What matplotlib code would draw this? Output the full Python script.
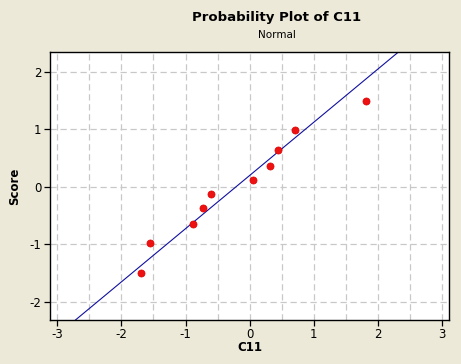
import matplotlib
matplotlib.use("Agg")
import matplotlib.pyplot as plt
import numpy as np

# Data
c11_values = [-1.69, -1.55, -0.89, -0.73, -0.61, 0.06, 0.31, 0.45, 0.70, 1.81]
scores = [-1.497, -0.980, -0.645, -0.369, -0.121, 0.121, 0.369, 0.645, 0.980, 1.497]
x_ticks = [-3, -2, -1, 0, 1, 2, 3]
y_ticks = [-2, -1, 0, 1, 2]

title = "Probability Plot of C11"
subtitle = "Normal"

bg = "#ECE9D8"
plt.rcParams['font.family'] = ['DejaVu Sans']
plt.rcParams['axes.unicode_minus'] = False

fig = plt.figure(figsize=(4.61, 3.64), dpi=100, facecolor=bg)
ax = fig.add_axes([50/461, 44/364, 399/461, 268/364])
ax.set_facecolor("white")

xmin, xmax = -3.114, 3.11
ymin, ymax = -2.31, 2.34
ax.set_xlim(xmin, xmax)
ax.set_ylim(ymin, ymax)

# grid
minor_x = np.arange(-3, 3.01, 0.5)
for xv in minor_x:
    ax.axvline(xv, color="#c8c8c8", lw=0.9, ls=(0, (5, 3)), zorder=0)
for yv in y_ticks:
    ax.axhline(yv, color="#c8c8c8", lw=0.9, ls=(0, (5, 3)), zorder=0)

# fitted normal line
x_arr = np.array(c11_values)
mu = x_arr.mean()
sd = x_arr.std(ddof=1)
xs = np.array([xmin, xmax])
ax.plot(xs, (xs - mu) / sd, color="#1010a0", lw=0.8, zorder=2)

ax.scatter(c11_values, scores, s=26, color="#ee1111", edgecolors="#dd0000",
           linewidths=0.5, zorder=3)

ax.set_xticks(x_ticks)
ax.set_yticks(y_ticks)
ax.tick_params(direction="out", length=4, width=0.9, labelsize=8.5, colors="black",
               pad=2)
for s in ax.spines.values():
    s.set_linewidth(1.0)
    s.set_color("black")

ax.set_xlabel("C11", fontsize=8.5, fontweight="bold", labelpad=0)
ax.set_ylabel("Score", fontsize=8.5, fontweight="bold", labelpad=6)

fig.text(277/461, 1 - 17/364, title, ha="center", va="center",
         fontsize=9.5, fontweight="bold")
fig.text(277/461, 1 - 35/364, subtitle, ha="center", va="center",
         fontsize=7.5)

fig.savefig("out.png", dpi=100, facecolor=bg)
